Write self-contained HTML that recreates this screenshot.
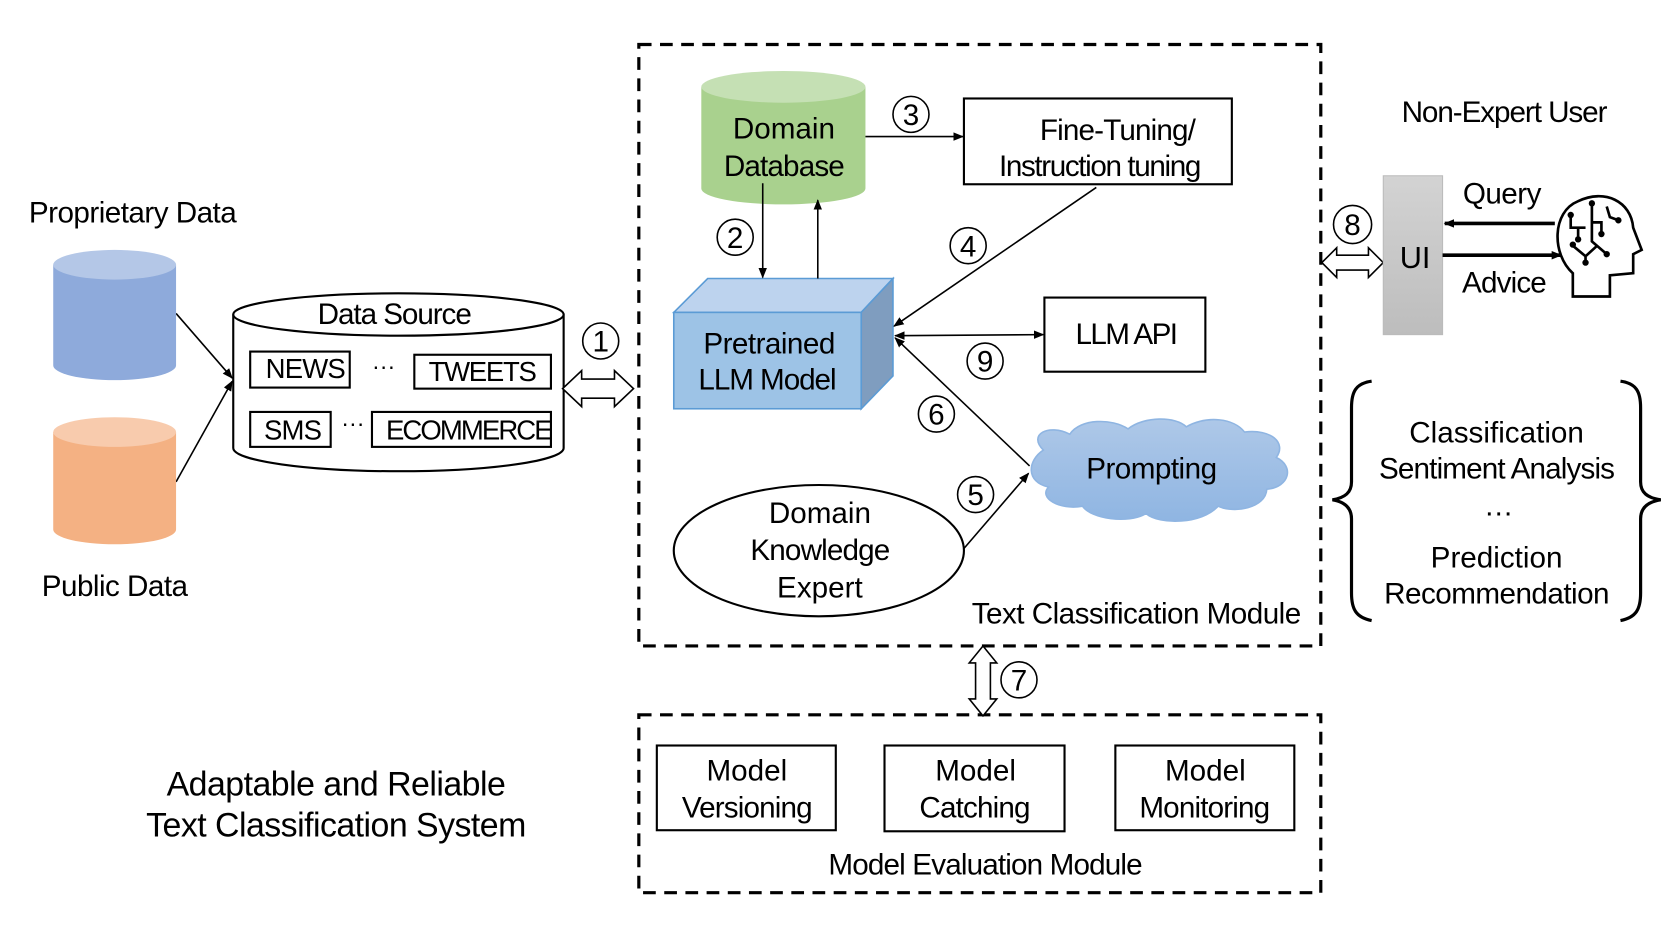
<!DOCTYPE html>
<html><head><meta charset="utf-8"><style>
html,body{margin:0;padding:0;background:#fff;}
svg{display:block;}
text{font-family:"Liberation Sans",Arial,sans-serif;fill:#000;}
</style></head><body>
<svg width="1661" height="934" viewBox="0 0 1568 882" xmlns="http://www.w3.org/2000/svg">
<defs>
<marker id="ah" markerWidth="10" markerHeight="10" refX="9" refY="5" orient="auto" markerUnits="userSpaceOnUse"><path d="M0,1 L10,5 L0,9 z" fill="#000"/></marker>
<marker id="ahs" markerWidth="10" markerHeight="10" refX="1" refY="5" orient="auto" markerUnits="userSpaceOnUse"><path d="M10,1 L0,5 L10,9 z" fill="#000"/></marker>
<linearGradient id="ui" x1="0" y1="0" x2="0" y2="1"><stop offset="0" stop-color="#d3d3d3"/><stop offset="1" stop-color="#bdbdbd"/></linearGradient>
<linearGradient id="cl" x1="0" y1="0" x2="0" y2="1"><stop offset="0" stop-color="#aec8e8"/><stop offset="1" stop-color="#8fb5e2"/></linearGradient>
</defs>
<g stroke="#000" stroke-width="3" fill="none" stroke-dasharray="12 8">
<rect x="603" y="42" width="644" height="568"/>
<rect x="603" y="675" width="644" height="168"/>
</g>
<path d="M662,82 V178 A77.5,15 0 0 0 817,178 V82 Z" fill="#a9d18e"/>
<ellipse cx="739.5" cy="82" rx="77.5" ry="15" fill="#c5e0b4"/>
<text x="740" y="131" font-size="28" text-anchor="middle">Domain</text>
<text x="740" y="166" font-size="28" text-anchor="middle" letter-spacing="-0.8">Database</text>
<rect x="910" y="93" width="253" height="81" fill="none" stroke="#000" stroke-width="2"/>
<text x="1055" y="132" font-size="28" text-anchor="middle" letter-spacing="-0.8">Fine-Tuning/</text>
<text x="1038" y="166" font-size="28" text-anchor="middle" letter-spacing="-1.3">Instruction tuning</text>
<path d="M636,295 L668,263 L843,263 L813,295 Z" fill="#bdd3ee" stroke="#5b9bd5" stroke-width="1.5"/>
<path d="M813,295 L843,263 L843,355 L813,386 Z" fill="#7f9dbf" stroke="#5b9bd5" stroke-width="1.5"/>
<rect x="636" y="295" width="177" height="91" fill="#9dc3e6" stroke="#5b9bd5" stroke-width="1.5"/>
<text x="726" y="334" font-size="28" text-anchor="middle" letter-spacing="-0.5">Pretrained</text>
<text x="724" y="368" font-size="28" text-anchor="middle" letter-spacing="-1">LLM Model</text>
<g stroke="#000" stroke-width="1.5" fill="none">
<line x1="720" y1="173" x2="720" y2="262" marker-end="url(#ah)"/>
<line x1="772" y1="263" x2="772" y2="189" marker-end="url(#ah)"/>
<line x1="817" y1="129" x2="909" y2="129" marker-end="url(#ah)"/>
<line x1="1035" y1="177" x2="844" y2="308" marker-end="url(#ah)"/>
<line x1="845" y1="317" x2="985" y2="316" marker-end="url(#ah)" marker-start="url(#ahs)"/>
<line x1="972" y1="440" x2="845" y2="319" marker-end="url(#ah)"/>
<line x1="910" y1="518" x2="971" y2="447" marker-end="url(#ah)"/>
<line x1="166" y1="296" x2="219" y2="357" marker-end="url(#ah)"/>
<line x1="166" y1="455" x2="219" y2="360" marker-end="url(#ah)"/>
</g>
<rect x="986" y="281" width="152" height="70" fill="none" stroke="#000" stroke-width="2"/>
<text x="1063" y="325" font-size="28" text-anchor="middle" letter-spacing="-1.5">LLM API</text>
<ellipse cx="773" cy="520" rx="137" ry="62" fill="none" stroke="#000" stroke-width="2"/>
<text x="774" y="494" font-size="28" text-anchor="middle">Domain</text>
<text x="774" y="529" font-size="28" text-anchor="middle" letter-spacing="-0.8">Knowledge</text>
<text x="774" y="564" font-size="28" text-anchor="middle">Expert</text>
<path d="M985,425 C970,410 990,400 1010,410 C1020,395 1050,395 1065,405 C1080,393 1110,393 1120,403 C1140,392 1165,395 1175,408 C1200,405 1215,418 1205,432 C1222,440 1218,460 1196,462 C1195,480 1165,485 1150,478 C1135,495 1095,496 1082,485 C1065,495 1030,490 1022,478 C1000,482 980,470 990,460 C968,455 970,435 985,425 Z" fill="url(#cl)" stroke="#8fb5e2" stroke-width="1.5"/>
<text x="1087" y="452" font-size="28" text-anchor="middle" letter-spacing="-0.5">Prompting</text>
<text x="1228" y="589" font-size="28" text-anchor="end" letter-spacing="-0.5">Text Classification Module</text>
<g fill="none" stroke="#000" stroke-width="2">
<rect x="620" y="704" width="169" height="80"/>
<rect x="835" y="704" width="170" height="81"/>
<rect x="1053" y="704" width="169" height="80"/>
</g>
<text x="705" y="737" font-size="28" text-anchor="middle">Model</text>
<text x="705" y="772" font-size="28" text-anchor="middle" letter-spacing="-0.8">Versioning</text>
<text x="921" y="737" font-size="28" text-anchor="middle">Model</text>
<text x="920" y="772" font-size="28" text-anchor="middle" letter-spacing="-0.8">Catching</text>
<text x="1138" y="737" font-size="28" text-anchor="middle">Model</text>
<text x="1137" y="772" font-size="28" text-anchor="middle" letter-spacing="-0.8">Monitoring</text>
<text x="930" y="826" font-size="28" text-anchor="middle" letter-spacing="-0.8">Model Evaluation Module</text>
<path d="M928,610 L941,626 L935,626 L935,660 L941,660 L928,676 L915,660 L921,660 L921,626 L915,626 Z" fill="#fff" stroke="#000" stroke-width="1.5"/>
<text x="27" y="210" font-size="28" letter-spacing="-0.5">Proprietary Data</text>
<path d="M50,250 V345 A58,14 0 0 0 166,345 V250 Z" fill="#8eaadb"/>
<ellipse cx="108" cy="250" rx="58" ry="14" fill="#b4c7e7"/>
<path d="M50,408 V500 A58,14 0 0 0 166,500 V408 Z" fill="#f4b183"/>
<ellipse cx="108" cy="408" rx="58" ry="14" fill="#f8cbad"/>
<text x="108" y="563" font-size="28" text-anchor="middle" letter-spacing="-0.5">Public Data</text>
<path d="M220,297 V423 A156,22 0 0 0 532,423 V297" fill="none" stroke="#000" stroke-width="2"/>
<ellipse cx="376" cy="297" rx="156" ry="20" fill="none" stroke="#000" stroke-width="2"/>
<text x="372" y="306" font-size="28" text-anchor="middle" letter-spacing="-1">Data Source</text>
<g fill="none" stroke="#000" stroke-width="2">
<rect x="236" y="332" width="94" height="34"/>
<rect x="391" y="335" width="129" height="32"/>
<rect x="236" y="389" width="76" height="33"/>
<rect x="351" y="389" width="169" height="33"/>
</g>
<text x="288" y="357" font-size="26" text-anchor="middle" letter-spacing="-0.8">NEWS</text>
<text x="362" y="353" font-size="22" text-anchor="middle">···</text>
<text x="455" y="360" font-size="26" text-anchor="middle" letter-spacing="-1.2">TWEETS</text>
<text x="276" y="415" font-size="26" text-anchor="middle" letter-spacing="-0.8">SMS</text>
<text x="333" y="407" font-size="22" text-anchor="middle">···</text>
<text x="442" y="415" font-size="26" text-anchor="middle" letter-spacing="-1.8">ECOMMERCE</text>
<path d="M531,367 L549,350 L549,358 L580,358 L580,350 L598,367 L580,384 L580,376 L549,376 L549,384 Z" fill="#fff" stroke="#000" stroke-width="1.5"/>
<path d="M1248,248 L1262,234 L1262,241 L1292,241 L1292,234 L1306,248 L1292,262 L1292,255 L1262,255 L1262,262 Z" fill="#fff" stroke="#000" stroke-width="1.5"/>
<g fill="none" stroke="#000" stroke-width="1.5">
<circle cx="860" cy="108" r="17"/><circle cx="694" cy="224" r="17"/><circle cx="914" cy="232" r="17"/>
<circle cx="567" cy="322" r="17"/><circle cx="930" cy="341" r="17"/><circle cx="884" cy="391" r="17"/>
<circle cx="921" cy="467" r="17"/><circle cx="962" cy="642" r="17"/><circle cx="1277" cy="212" r="18"/>
</g>
<g font-size="28" text-anchor="middle">
<text x="860" y="118">3</text><text x="694" y="234">2</text><text x="914" y="242">4</text>
<text x="567" y="332">1</text><text x="930" y="351">9</text><text x="884" y="401">6</text>
<text x="921" y="477">5</text><text x="962" y="652">7</text><text x="1277" y="222">8</text>
</g>
<text x="1420" y="115" font-size="28" text-anchor="middle" letter-spacing="-1">Non-Expert User</text>
<rect x="1306" y="166" width="56" height="150" fill="url(#ui)" stroke="#bbb" stroke-width="1"/>
<text x="1336" y="253" font-size="29" text-anchor="middle">UI</text>
<line x1="1468" y1="211" x2="1364" y2="211" stroke="#000" stroke-width="3.5" marker-end="url(#ah)"/>
<line x1="1362" y1="241" x2="1474" y2="241" stroke="#000" stroke-width="3.5" marker-end="url(#ah)"/>
<text x="1418" y="192" font-size="28" text-anchor="middle" letter-spacing="-0.5">Query</text>
<text x="1420" y="276" font-size="28" text-anchor="middle" letter-spacing="-0.8">Advice</text>
<g fill="none" stroke="#000" stroke-width="2.5">
<path d="M1485,280 V258 C1465,240 1465,200 1490,190 C1515,178 1540,190 1542,215 L1550,236 L1542,240 L1542,258 L1520,260 V280 Z"/>
<path d="M1483,204 V215 H1497 M1490,215 V225 M1503,193 V210 H1512 V220 M1503,210 V228 L1517,240 M1508,232 L1497,242 L1485,232 M1497,242 V247 M1517,195 L1520,205 L1528,208"/>
</g>
<g fill="#000"><circle cx="1483" cy="203" r="3"/><circle cx="1503" cy="192" r="3"/><circle cx="1512" cy="221" r="3"/><circle cx="1490" cy="226" r="3"/><circle cx="1517" cy="240" r="3"/><circle cx="1485" cy="231" r="3"/><circle cx="1497" cy="248" r="3"/><circle cx="1528" cy="208" r="3"/></g>
<g fill="none" stroke="#000" stroke-width="3">
<path d="M1295,360 C1280,362 1276,370 1276,385 V455 C1276,465 1270,470 1258,472 C1270,474 1276,480 1276,490 V560 C1276,575 1280,583 1295,586"/>
<path d="M1530,360 C1545,362 1549,370 1549,385 V455 C1549,465 1555,470 1568,472 C1555,474 1549,480 1549,490 V560 C1549,575 1545,583 1530,586"/>
</g>
<g font-size="28" text-anchor="middle">
<text x="1413" y="418">Classification</text>
<text x="1413" y="452" letter-spacing="-0.8">Sentiment Analysis</text>
<text x="1415" y="487">…</text>
<text x="1413" y="536">Prediction</text>
<text x="1413" y="570" letter-spacing="-0.5">Recommendation</text>
</g>
<text x="317" y="751" font-size="32" text-anchor="middle" letter-spacing="-0.5">Adaptable and Reliable</text>
<text x="317" y="790" font-size="32" text-anchor="middle" letter-spacing="-0.5">Text Classification System</text>
</svg>
</body></html>
